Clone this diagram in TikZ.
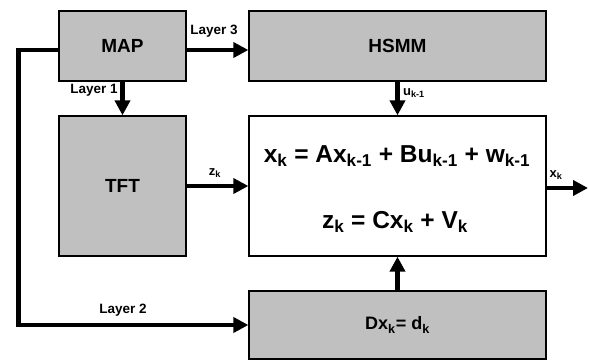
\documentclass[tikz,border=0pt]{standalone}
\usepackage{fontspec}
\setmainfont{Liberation Sans}
\usetikzlibrary{arrows.meta}
\newcommand\sbs[1]{\textsubscript{#1}}
\definecolor{boxgray}{HTML}{C0C0C0}
\tikzset{
  graybox/.style={draw=black, line width=1.3pt, fill=boxgray, inner sep=0pt, font=\bfseries\fontsize{19}{21}\selectfont},
  whitebox/.style={draw=black, line width=1.3pt, fill=white, inner sep=0pt},
  arr/.style={line width=4.5pt, -{Triangle[length=15pt,width=15pt]}},
  lbl/.style={font=\bfseries\fontsize{13.5}{15}\selectfont, inner sep=0pt},
  sublbl/.style={font=\bfseries\fontsize{13}{15}\selectfont, inner sep=0pt},
  eqtext/.style={font=\bfseries\fontsize{24.5}{27}\selectfont, inner sep=0pt}
}
\begin{document}
\begin{tikzpicture}[x=1pt,y=-1pt]
\useasboundingbox (0,0) rectangle (589,361);
\node[graybox, minimum width=127pt, minimum height=70pt] (MAP) at (122.5,46) {MAP};
\node[graybox, minimum width=297pt, minimum height=70pt] (HSMM) at (397.5,46) {HSMM};
\node[graybox, minimum width=127pt, minimum height=140pt] (TFT) at (122.5,186) {TFT};
\node[whitebox, minimum width=297pt, minimum height=140pt] (EQ) at (397.5,186) {};
\node[graybox, minimum width=297pt, minimum height=68pt, font=\bfseries\fontsize{18}{20}\selectfont] (DX) at (397.5,325) {Dx\sbs{k}= d\sbs{k}};
\node[eqtext] (eq1) at (397,156) {x\sbs{k} = Ax\sbs{k-1} + Bu\sbs{k-1} + w\sbs{k-1}};
\node[eqtext] (eq2) at (395,222) {z\sbs{k} = Cx\sbs{k} + V\sbs{k}};
\coordinate (out) at (588,188);
\draw[arr] ([yshift=-4pt]MAP.east) -- ([yshift=-4pt]HSMM.west);
\draw[arr] (MAP.south) -- (TFT.north);
\draw[arr] ([yshift=-4pt]MAP.west) -- ++(-40,0) |- (DX.west);
\draw[arr] (TFT.east) -- (EQ.west);
\draw[arr] (HSMM.south) -- (EQ.north);
\draw[arr] (DX.north) -- (EQ.south);
\draw[arr] ([yshift=-2pt]EQ.east) -- (out);
\node[lbl] (l3) at (214,31) {Layer 3};
\node[lbl] (l1) at (94,90) {Layer 1};
\node[lbl] (l2) at (123,310) {Layer 2};
\node[sublbl] (zk) at (215,173) {z\sbs{k}};
\node[sublbl] (uk) at (414,93) {u\sbs{k-1}};
\node[sublbl] (xk) at (556,175) {x\sbs{k}};
\end{tikzpicture}
\end{document}
